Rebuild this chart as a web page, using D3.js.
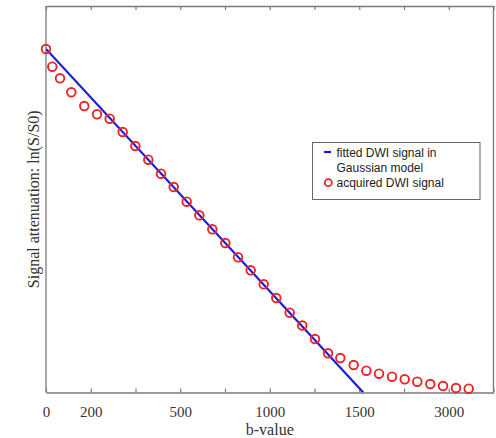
<!DOCTYPE html>
<html><head><meta charset="utf-8">
<script src="https://d3js.org/d3.v7.min.js"></script>
<style>body{margin:0;background:#fff}svg{display:block}</style>
</head><body>
<script>
// x positions are in tick-slot units (ticks evenly spaced, labelled with b-values)
const tickPositions = [0,1,2,3,4,5,6,7,8,9,10];
const tickLabels = ["0","200","","500","","1000","","1500","","3000",""];
const acquiredX = [0,0.141,0.313,0.565,0.856,1.14,1.423,1.714,1.996,2.286,2.570,2.854,3.144,3.426,3.716,4.007,4.291,4.574,4.865,5.146,5.446,5.727,6.011,6.302,6.577,6.876,7.158,7.441,7.732,8.016,8.297,8.588,8.872,9.162,9.446];
const acquiredY = [0,-0.177,-0.293,-0.433,-0.57,-0.653,-0.697,-0.83,-0.97,-1.107,-1.247,-1.38,-1.527,-1.663,-1.803,-1.94,-2.083,-2.213,-2.353,-2.49,-2.637,-2.765,-2.90,-3.043,-3.09,-3.16,-3.217,-3.247,-3.277,-3.303,-3.327,-3.35,-3.37,-3.39,-3.397];
const fittedX = [0, 7.09];
const fittedY = [0, -3.435];

const W=496,H=438;
const m={l:46,r:2.5,t:6,b:45.5};
const svg=d3.select("body").append("svg").attr("width",W).attr("height",H);
const x=d3.scaleLinear().domain([0,10]).range([m.l,W-m.r]);
const y=d3.scaleLinear().domain([-3.435,0.43]).range([H-m.b,m.t]);
const axisCol="#7a7a7a";

const clip=svg.append("clipPath").attr("id","c").append("rect")
  .attr("x",m.l).attr("y",m.t).attr("width",x(10)-m.l).attr("height",y.range()[0]-m.t);

// axes
const xb=svg.append("g").attr("transform",`translate(0,${y.range()[0]})`)
  .call(d3.axisBottom(x).tickValues(tickPositions).tickSizeInner(-4).tickSizeOuter(0)
  .tickFormat((d,i)=>tickLabels[i]).tickPadding(14));
const xt=svg.append("g").attr("transform",`translate(0,${m.t})`)
  .call(d3.axisTop(x).tickValues(tickPositions).tickSizeInner(-4).tickSizeOuter(0).tickFormat(""));
[xb,xt].forEach(g=>{g.select(".domain").attr("stroke",axisCol).attr("stroke-width",1.3);
  g.selectAll(".tick line").attr("stroke",axisCol).attr("stroke-width",1.2);});
xb.selectAll(".tick text").attr("font-family","Liberation Serif, Times New Roman, serif").attr("font-size",15).attr("fill","#333");
svg.append("line").attr("x1",m.l).attr("x2",m.l).attr("y1",m.t).attr("y2",y.range()[0]).attr("stroke",axisCol).attr("stroke-width",1.3);
svg.append("line").attr("x1",x(10)).attr("x2",x(10)).attr("y1",m.t).attr("y2",y.range()[0]).attr("stroke",axisCol).attr("stroke-width",1.3);

// fitted line
const fit=fittedX.map((d,i)=>[d,fittedY[i]]);
svg.append("path").attr("clip-path","url(#c)").datum(fit)
  .attr("d",d3.line().x(d=>x(d[0])).y(d=>y(d[1])))
  .attr("fill","none").attr("stroke","#1c1cd6").attr("stroke-width",2.2);

// acquired points
const pts=acquiredX.map((d,i)=>[d,acquiredY[i]]);
svg.append("g").selectAll("circle").data(pts).join("circle")
  .attr("cx",d=>x(d[0])).attr("cy",d=>y(d[1])).attr("r",4.3)
  .attr("fill","none").attr("stroke","#e8262a").attr("stroke-width",1.9);

// labels
svg.append("text").attr("x",(m.l+x(10))/2).attr("y",435).attr("text-anchor","middle")
  .attr("font-family","Liberation Serif, Times New Roman, serif").attr("font-size",16).attr("fill","#333").text("b-value");
svg.append("text").attr("transform",`translate(39,${(m.t+y.range()[0])/2}) rotate(-90)`).attr("text-anchor","middle")
  .attr("font-family","Liberation Serif, Times New Roman, serif").attr("font-size",16).attr("fill","#333").text("Signal attenuation: ln(S/S0)");

// legend
const lg=svg.append("g");
lg.append("rect").attr("x",312.5).attr("y",142.5).attr("width",167.5).attr("height",57)
  .attr("fill","#fff").attr("stroke","#666").attr("stroke-width",1);
lg.append("line").attr("x1",324).attr("x2",331).attr("y1",152).attr("y2",152).attr("stroke","#1c1cd6").attr("stroke-width",2.2);
lg.append("circle").attr("cx",328.3).attr("cy",182.7).attr("r",3.5).attr("fill","none").attr("stroke","#e8262a").attr("stroke-width",1.8);
const lt=[["fitted DWI signal in",152.3],["Gaussian model",167.7],["acquired DWI signal",182.7]];
lg.selectAll("text.l").data(lt).join("text").attr("x",336.5).attr("y",d=>d[1]).attr("dy","0.35em")
  .attr("font-family","Liberation Sans, Arial, sans-serif").attr("font-size",12).attr("fill","#222").text(d=>d[0]);
</script>
</body></html>
